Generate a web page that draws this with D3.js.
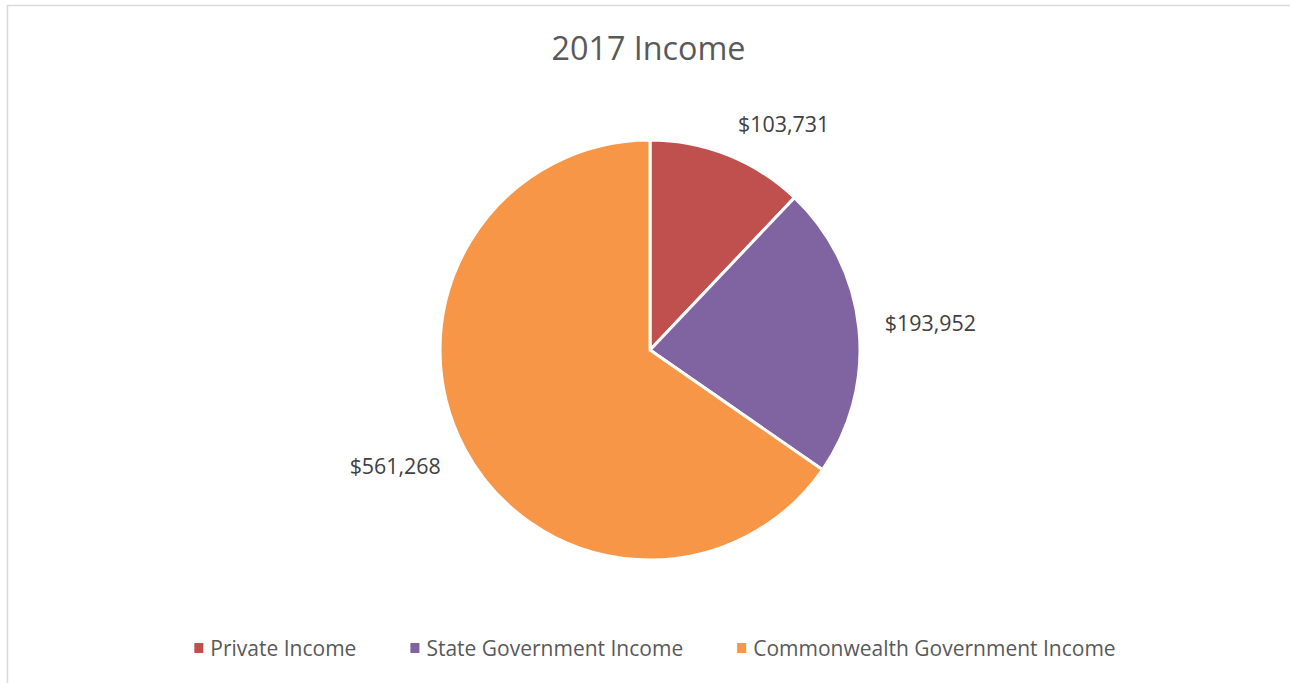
<!DOCTYPE html>
<html>
<head>
<meta charset="utf-8">
<script src="https://cdn.jsdelivr.net/npm/d3@7"></script>
<style>
  html, body { margin: 0; padding: 0; background: #fff; }
  svg { display: block; font-family: "Open Sans", sans-serif; }
</style>
</head>
<body>
<svg id="chart" width="1290" height="683"></svg>
<script>
const title = "2017 Income";
const categories = ["Private Income", "State Government Income", "Commonwealth Government Income"];
const values = [103731, 193952, 561268];
const colors = ["#C0504D", "#8064A2", "#F79646"];

const W = 1290, H = 683;
const svg = d3.select("#chart");

// chart border (top and left visible)
svg.append("rect")
  .attr("x", 7.5).attr("y", 5.5)
  .attr("width", W).attr("height", H)
  .attr("fill", "none").attr("stroke", "#d9d9d9").attr("stroke-width", 1.5);

// title
svg.append("text")
  .attr("x", 648.5).attr("y", 60)
  .attr("text-anchor", "middle")
  .attr("font-size", 32.3)
  .attr("fill", "#595959")
  .text(title);

const cx = 650, cy = 350, R = 210;
const color = d3.scaleOrdinal().domain(categories).range(colors);
const pie = d3.pie().sort(null).value(d => d.value);
const data = categories.map((c, i) => ({ name: c, value: values[i] }));
const arcs = pie(data);
const arc = d3.arc().innerRadius(0).outerRadius(R);

const g = svg.append("g").attr("transform", `translate(${cx},${cy})`);
g.selectAll("path.slice")
  .data(arcs)
  .join("path")
  .attr("class", "slice")
  .attr("d", arc)
  .attr("fill", d => color(d.data.name))
  .attr("stroke", "#fff")
  .attr("stroke-width", 3)
  .attr("stroke-linejoin", "round");

// data labels
const fmt = d3.format("$,");
const labelFont = 21.4;
const labelR = 235;
const capH = labelFont * 0.72;
const clamp = v => Math.max(-1, Math.min(1, v));
g.selectAll("text.lbl")
  .data(arcs)
  .join("text")
  .attr("class", "lbl")
  .attr("font-size", labelFont)
  .attr("fill", "#404040")
  .attr("text-anchor", "middle")
  .text(d => fmt(d.data.value))
  .each(function(d) {
    const w = this.getComputedTextLength();
    const a = (d.startAngle + d.endAngle) / 2;
    const ux = Math.sin(a), uy = -Math.cos(a);
    const px = labelR * ux, py = labelR * uy;
    const bx = px + (w / 2 + 1) * clamp(ux * 3);
    const by = py + (capH / 2) * clamp(uy * 3);
    d3.select(this).attr("x", bx).attr("y", by + capH / 2);
  });

// legend
const legendFont = 21.0;
const legY = 648;
const legCap = legendFont * 0.72;
const leg = svg.append("g");
const items = leg.selectAll("g.item")
  .data(categories)
  .join("g")
  .attr("class", "item");
items.append("rect")
  .attr("width", 9).attr("height", 10)
  .attr("y", legY - 5)
  .attr("fill", d => color(d));
items.append("text")
  .attr("x", 16)
  .attr("y", legY + legCap / 2)
  .attr("font-size", legendFont)
  .attr("fill", "#595959")
  .text(d => d);
let xpos = 0;
const offsets = [];
items.each(function() {
  const tw = d3.select(this).select("text").node().getComputedTextLength();
  offsets.push(xpos);
  xpos += 16 + tw + 54;
});
const total = xpos - 54;
const startX = 655 - total / 2;
items.attr("transform", (d, i) => `translate(${startX + offsets[i]},0)`);
</script>
</body>
</html>
